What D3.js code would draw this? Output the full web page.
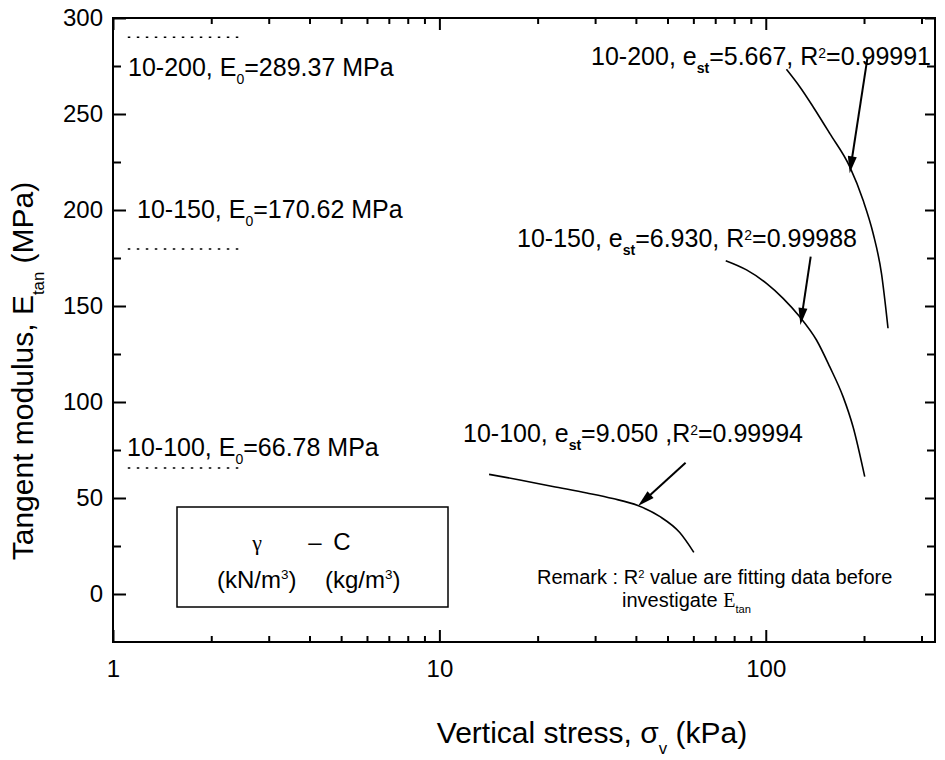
<!DOCTYPE html>
<html><head><meta charset="utf-8">
<script src="https://cdn.jsdelivr.net/npm/d3@7/dist/d3.min.js"></script>
<style>body{margin:0;background:#fff} text{white-space:pre}</style>
</head><body>
<svg id="c" width="945" height="760"></svg>
<script>
// ---- data ----
const xDomain = [1, 330];
const yDomain = [-25, 300];
const xMajorTicks = [1, 10, 100];
const xMinorTicks = [2,3,4,5,6,7,8,9,20,30,40,50,60,70,80,90,200,300];
const yMajorTicks = [0, 50, 100, 150, 200, 250, 300];
const yMinorTicks = [25, 75, 125, 175, 225, 275];

const seriesNames = ["10-200", "10-150", "10-100"];
const stress200 = [115.7, 127.1, 139.6, 157.0, 180.8, 198.6, 213.2, 226.2, 236.9];
const etan200   = [273.3, 264.2, 253.8, 239.9, 222.6, 205.2, 187.9, 167.0, 138.4];
const stress150 = [75.4, 87.3, 100.5, 113.0, 127.1, 143.0, 157.0, 172.5, 185.1, 201.0];
const etan150   = [173.6, 168.8, 161.8, 154.0, 144.4, 132.3, 118.4, 102.8, 87.1, 61.1];
const stress100 = [14.2, 17.65, 22.26, 28.3, 34.0, 40.55, 47.3, 54.5, 60.2];
const etan100   = [62.3, 59.4, 56.0, 52.6, 49.7, 46.1, 40.4, 32.0, 21.7];

const e0Labels  = ["289.37", "170.62", "66.78"];
const e0Levels  = [290.0, 179.7, 65.6];
const e0Range   = [1.11, 2.5];
const estValues = ["5.667", "6.930", "9.050"];
const r2Values  = ["0.99991", "0.99988", "0.99994"];
const arrowFromX = [204.8, 137.3, 56.8];
const arrowFromY = [279.0, 175.7, 68.4];
const arrowToX   = [180.8, 127.7, 40.6];
const arrowToY   = [219.1, 140.1, 45.8];

// ---- drawing ----
const svg = d3.select("#c");
const FONT = "'Liberation Sans', Arial, sans-serif";
const L = 113, R = 935, T = 18, B = 642;
const x = d3.scaleLog().domain(xDomain).range([L, R]);
const y = d3.scaleLinear().domain(yDomain).range([B, T]);

function rich(sel, px, py, parts, size, anchor, family) {
  const t = sel.append("text").attr("x", px).attr("y", py)
    .attr("font-size", size).attr("text-anchor", anchor || "start")
    .attr("font-family", family || FONT).attr("fill", "#000");
  let off = 0;
  parts.forEach(p => {
    const o = typeof p === "string" ? {t: p} : p;
    let target = 0, fs = null;
    if (o.m === "sub") { target = (o.shift != null ? o.shift : 0.32) * size; fs = 0.56 * size; }
    if (o.m === "sup") { target = (o.shift != null ? o.shift : -0.3) * size; fs = 0.56 * size; }
    const ts = t.append("tspan").text(o.t).attr("dy", target - off);
    if (fs) ts.attr("font-size", fs);
    if (o.f) ts.attr("font-family", o.f);
    if (o.w) ts.attr("font-weight", o.w);
    off = target;
  });
  return t;
}

// axes
function styleAxis(g) {
  g.select(".domain").remove();
  g.selectAll(".tick line").attr("stroke", "#000").attr("stroke-width", 2);
  g.selectAll(".tick text").attr("font-family", FONT).attr("font-size", 24).attr("fill", "#000");
}
svg.append("g").attr("transform", `translate(0,${B})`)
  .call(d3.axisBottom(x).tickValues(xMajorTicks).tickSize(-12).tickPadding(18).tickFormat(d3.format("d"))).call(styleAxis);
svg.append("g").attr("transform", `translate(0,${B})`)
  .call(d3.axisBottom(x).tickValues(xMinorTicks).tickSize(-6).tickFormat("")).call(styleAxis);
svg.append("g").attr("transform", `translate(0,${T})`)
  .call(d3.axisTop(x).tickValues(xMajorTicks).tickSize(-12).tickFormat("")).call(styleAxis);
svg.append("g").attr("transform", `translate(0,${T})`)
  .call(d3.axisTop(x).tickValues(xMinorTicks).tickSize(-6).tickFormat("")).call(styleAxis);
svg.append("g").attr("transform", `translate(${L},0)`)
  .call(d3.axisLeft(y).tickValues(yMajorTicks).tickSize(-13).tickPadding(10).tickFormat(d3.format("d"))).call(styleAxis);
svg.append("g").attr("transform", `translate(${L},0)`)
  .call(d3.axisLeft(y).tickValues(yMinorTicks).tickSize(-8).tickFormat("")).call(styleAxis);
svg.append("g").attr("transform", `translate(${R},0)`)
  .call(d3.axisRight(y).tickValues(yMajorTicks).tickSize(-10).tickFormat("")).call(styleAxis);
svg.append("g").attr("transform", `translate(${R},0)`)
  .call(d3.axisRight(y).tickValues(yMinorTicks).tickSize(-8).tickFormat("")).call(styleAxis);

svg.append("rect").attr("x", L).attr("y", T).attr("width", R - L).attr("height", B - T)
  .attr("fill", "none").attr("stroke", "#000").attr("stroke-width", 2);

// curves
const line = d3.line().x(d => x(d[0])).y(d => y(d[1])).curve(d3.curveMonotoneX);
const curves = [d3.zip(stress200, etan200), d3.zip(stress150, etan150), d3.zip(stress100, etan100)];
svg.selectAll("path.curve").data(curves).join("path").attr("class", "curve")
  .attr("d", line).attr("fill", "none").attr("stroke", "#000").attr("stroke-width", 1.6);

// dotted E0 lines
svg.selectAll("line.e0").data(e0Levels).join("line").attr("class", "e0")
  .attr("x1", x(e0Range[0])).attr("x2", x(e0Range[1]))
  .attr("y1", d => y(d)).attr("y2", d => y(d))
  .attr("stroke", "#000").attr("stroke-width", 1.5).attr("stroke-dasharray", "2.5,6.5");

// arrows
seriesNames.forEach((s, i) => {
  const x1 = x(arrowFromX[i]), y1 = y(arrowFromY[i]);
  const x2 = x(arrowToX[i]), y2 = y(arrowToY[i]);
  const len = Math.hypot(x2 - x1, y2 - y1), ux = (x2 - x1) / len, uy = (y2 - y1) / len;
  const hl = 17, hw = 4.5;
  const bx = x2 - ux * hl, by = y2 - uy * hl;
  svg.append("line").attr("x1", x1).attr("y1", y1).attr("x2", bx + ux * 2).attr("y2", by + uy * 2)
    .attr("stroke", "#000").attr("stroke-width", 2);
  svg.append("path").attr("d", `M${x2},${y2}L${bx - uy * hw},${by + ux * hw}L${bx + uy * hw},${by - ux * hw}Z`)
    .attr("fill", "#000");
});

// E0 labels (left)
const e0Pos = [[128, 76], [137, 218], [127, 456]];
seriesNames.forEach((s, i) => {
  rich(svg, e0Pos[i][0], e0Pos[i][1], [s + ", E", {t: "0", m: "sub"}, "=" + e0Labels[i] + " MPa"], 25);
});

// fit labels (right)
const fitPos = [[931, 65, "end"], [857, 247, "end"], [463, 442, "start"]];
seriesNames.forEach((s, i) => {
  const sep = i === 2 ? " ,R" : ", R";
  rich(svg, fitPos[i][0], fitPos[i][1],
    [s + ", e", {t: "st", m: "sub", w: "bold"}, "=" + estValues[i] + sep, {t: "2", m: "sup"}, "=" + r2Values[i]],
    25, fitPos[i][2]);
});

// legend box
svg.append("rect").attr("x", 177).attr("y", 507).attr("width", 271).attr("height", 100)
  .attr("fill", "none").attr("stroke", "#000").attr("stroke-width", 1.5);
svg.append("text").attr("x", 257).attr("y", 550).attr("text-anchor", "middle")
  .attr("font-family", "'Liberation Serif', serif").attr("font-size", 22).text("γ");
svg.append("text").attr("x", 315).attr("y", 550).attr("text-anchor", "middle")
  .attr("font-family", FONT).attr("font-size", 24).text("–");
svg.append("text").attr("x", 342).attr("y", 550).attr("text-anchor", "middle")
  .attr("font-family", FONT).attr("font-size", 24).text("C");
rich(svg, 217, 588, ["(kN/m", {t: "3", m: "sup", shift: -0.38}, ")"], 24);
rich(svg, 325, 588, ["(kg/m", {t: "3", m: "sup", shift: -0.38}, ")"], 24);

// remark
rich(svg, 537, 584, ["Remark : R", {t: "2", m: "sup", shift: -0.32}, " value are fitting data before"], 20);
rich(svg, 622, 607, ["investigate ", {t: "E", f: "'Liberation Serif', serif"}, {t: "tan", m: "sub"}], 20);

// axis titles
rich(svg, 592, 743, ["Vertical stress, ", "σ", {t: "v", m: "sub", shift: 0.36}, " (kPa)"], 30, "middle");
rich(svg.append("g").attr("transform", "translate(33,371) rotate(-90)"), 0, 0,
  ["Tangent modulus, E", {t: "tan", m: "sub", shift: 0.36}, " (MPa)"], 30, "middle");
</script>
</body></html>
